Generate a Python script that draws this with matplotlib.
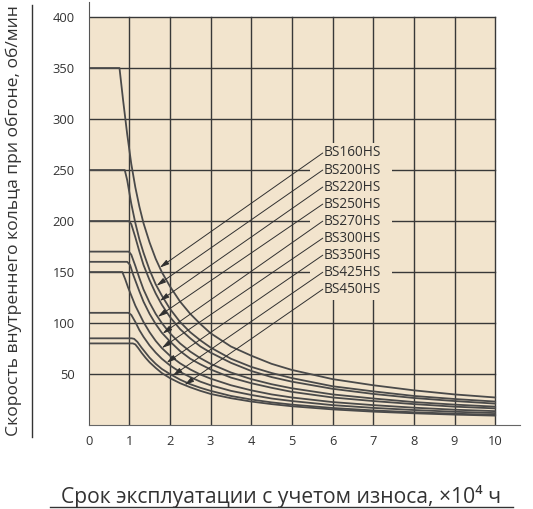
import numpy as np
import matplotlib.pyplot as plt
from matplotlib.patches import Rectangle
from matplotlib.lines import Line2D

plt.rcParams['font.family'] = ['Open Sans', 'DejaVu Sans']

# ------------------------------- data -------------------------------
models = ['BS160HS', 'BS200HS', 'BS220HS', 'BS250HS', 'BS270HS',
          'BS300HS', 'BS350HS', 'BS425HS', 'BS450HS']

tail_x = [3.5, 4, 4.5, 5, 6, 7, 8, 9, 10]

x_a = [0, 0.76, 0.85, 0.95, 1.05, 1.15, 1.25, 1.35, 1.5, 1.65, 1.8, 2, 2.25, 2.5, 2.75, 3] + tail_x
y_a = [350, 350, 318, 285, 256, 233, 214, 198, 179, 163, 150, 136, 121, 109, 99, 90,
       77, 68, 60, 54, 45, 39, 34, 30, 27]

x_b = [0, 0.89, 0.95, 1.05, 1.15, 1.25, 1.35, 1.5, 1.65, 1.8, 2, 2.25, 2.5, 2.75, 3] + tail_x
y_b = [250, 250, 240, 217, 198, 182, 169, 152, 138, 127, 114, 101, 91, 83, 76,
       65, 57, 51, 46, 38, 33, 28.5, 25.5, 23]

x_c = [0, 0.99, 1.05, 1.15, 1.25, 1.35, 1.5, 1.65, 1.8, 2, 2.25, 2.5, 2.75, 3] + tail_x
y_c = [200, 200, 197, 184, 170, 157, 142, 129, 118, 106, 94, 85, 77, 71,
       61, 53, 47, 42.5, 35.5, 30.5, 26.5, 23.5, 21]

x_d = [0, 0.99, 1.05, 1.15, 1.25, 1.35, 1.5, 1.65, 1.8, 2, 2.25, 2.5, 2.75, 3] + tail_x
y_d = [170, 170, 167, 156, 144, 133, 120, 109, 100, 90, 80, 72, 65.5, 60,
       51.5, 45, 40, 36, 30, 26, 22.5, 20, 18]

x_e = [0, 0.95, 1.02, 1.1, 1.25, 1.35, 1.5, 1.65, 1.8, 2, 2.25, 2.5, 2.75, 3] + tail_x
y_e = [160, 160, 157, 147, 131, 121, 109, 99, 90.5, 82, 72.5, 65, 59.5, 54.5,
       46.5, 41, 36.5, 32.5, 27, 23.5, 20.5, 18, 16.3]

x_f = [0, 0.83, 0.9, 0.97, 1.05, 1.15, 1.25, 1.35, 1.5, 1.65, 1.8, 2, 2.25, 2.5, 2.75, 3] + tail_x
y_f = [150, 150, 143, 135, 127, 117, 109, 101, 91, 82.5, 75.5, 68, 60.5, 54.5, 49.5, 45.5,
       39, 34, 30, 27, 22.5, 19.5, 17, 15, 13.6]

x_g = [0, 0.98, 1.05, 1.15, 1.25, 1.35, 1.5, 1.65, 1.8, 2, 2.25, 2.5, 2.75, 3] + tail_x
y_g = [110, 110, 108, 101, 93, 86.5, 78, 71, 65, 58.5, 52, 47, 42.5, 39,
       33.5, 29.5, 26, 23.5, 19.5, 16.8, 14.7, 13, 11.7]

x_h = [0, 1.06, 1.12, 1.2, 1.3, 1.4, 1.5, 1.65, 1.8, 2, 2.25, 2.5, 2.75, 3] + tail_x
y_h = [85, 85, 84.5, 81.5, 76, 71, 66, 60, 55, 50, 44.5, 40, 36.5, 33.5,
       28.5, 25, 22.2, 20, 16.7, 14.3, 12.5, 11.1, 10]

x_i = [0, 1.09, 1.15, 1.22, 1.3, 1.4, 1.5, 1.65, 1.8, 2, 2.25, 2.5, 2.75, 3] + tail_x
y_i = [80, 80, 79, 75.5, 71, 66, 61.5, 56, 51, 46, 41, 37, 33.5, 30.5,
       26.3, 23, 20.5, 18.4, 15.3, 13.1, 11.5, 10.2, 9.2]

# where each leader arrow touches its curve
tip_x = [1.75, 1.67, 1.75, 1.70, 1.82, 1.80, 1.92, 2.07, 2.36]

curves = [(x_a, y_a), (x_b, y_b), (x_c, y_c), (x_d, y_d), (x_e, y_e),
          (x_f, y_f), (x_g, y_g), (x_h, y_h), (x_i, y_i)]

# ------------------------------------- figure -------------------------------------
fig = plt.figure(figsize=(5.33, 5.09), dpi=100)
ax = fig.add_axes([0.1662, 0.165, 0.8094, 0.831])
ax.set_xlim(0, 10.61)
ax.set_ylim(0, 414.7)

bg = '#f2e4cd'
grid_c = '#383838'
ax.add_patch(Rectangle((0, 0), 10, 400, facecolor=bg, edgecolor='none', zorder=0))
for gx in range(1, 11):
    ax.plot([gx, gx], [0, 400], color=grid_c, lw=1.0, zorder=1)
for gy in range(50, 401, 50):
    ax.plot([0, 10], [gy, gy], color=grid_c, lw=1.0, zorder=1)

# label block hides the grid behind it
ax.add_patch(Rectangle((5.45, 122.5), 2.01, 154, facecolor=bg, edgecolor='none', zorder=2))

for cx, cy in curves:
    ax.plot(cx, cy, color='#4a4a4a', lw=1.3, zorder=3, solid_joinstyle='round')

lab_x = 5.76
for k, (name, (cx, cy)) in enumerate(zip(models, curves)):
    ly = 266.7 - k * 16.7
    tx = tip_x[k]
    ty = np.interp(tx, cx, cy)
    ax.annotate('', xy=(tx, ty), xytext=(lab_x, ly),
                arrowprops=dict(arrowstyle='-|>,head_length=0.55,head_width=0.15',
                                color='#303030', lw=0.7, shrinkA=0, shrinkB=0),
                zorder=4)
    ax.text(lab_x + 0.02, ly, name, fontsize=9.8, color='#303030', va='center', ha='left', zorder=5)

ax.set_xticks(range(0, 11))
ax.set_yticks(range(50, 401, 50))
ax.tick_params(length=0, labelsize=9.3, colors='#333333')
ax.tick_params(axis='x', pad=7)
ax.tick_params(axis='y', pad=10)
for s in ['top', 'right']:
    ax.spines[s].set_visible(False)
ax.spines['left'].set_color('#555555')
ax.spines['bottom'].set_color('#666666')
ax.patch.set_visible(False)

fig.text(14 / 533, 1 - 221 / 509, 'Скорость внутреннего кольца при обгоне, об/мин',
         rotation=90, ha='center', va='center', fontsize=12.6, color='#333333')
fig.add_artist(Line2D([32 / 533, 32 / 533], [1 - 437 / 509, 1 - 5 / 509],
                      color='#333333', lw=1.0))
fig.text(281 / 533, 1 - 497 / 509, 'Срок эксплуатации с учетом износа, ×10⁴ ч',
         ha='center', va='center', fontsize=15.2, color='#333333')
fig.add_artist(Line2D([50 / 533, 513 / 533], [1 - 507 / 509, 1 - 507 / 509],
                      color='#333333', lw=1.0))

fig.savefig('out.png')
